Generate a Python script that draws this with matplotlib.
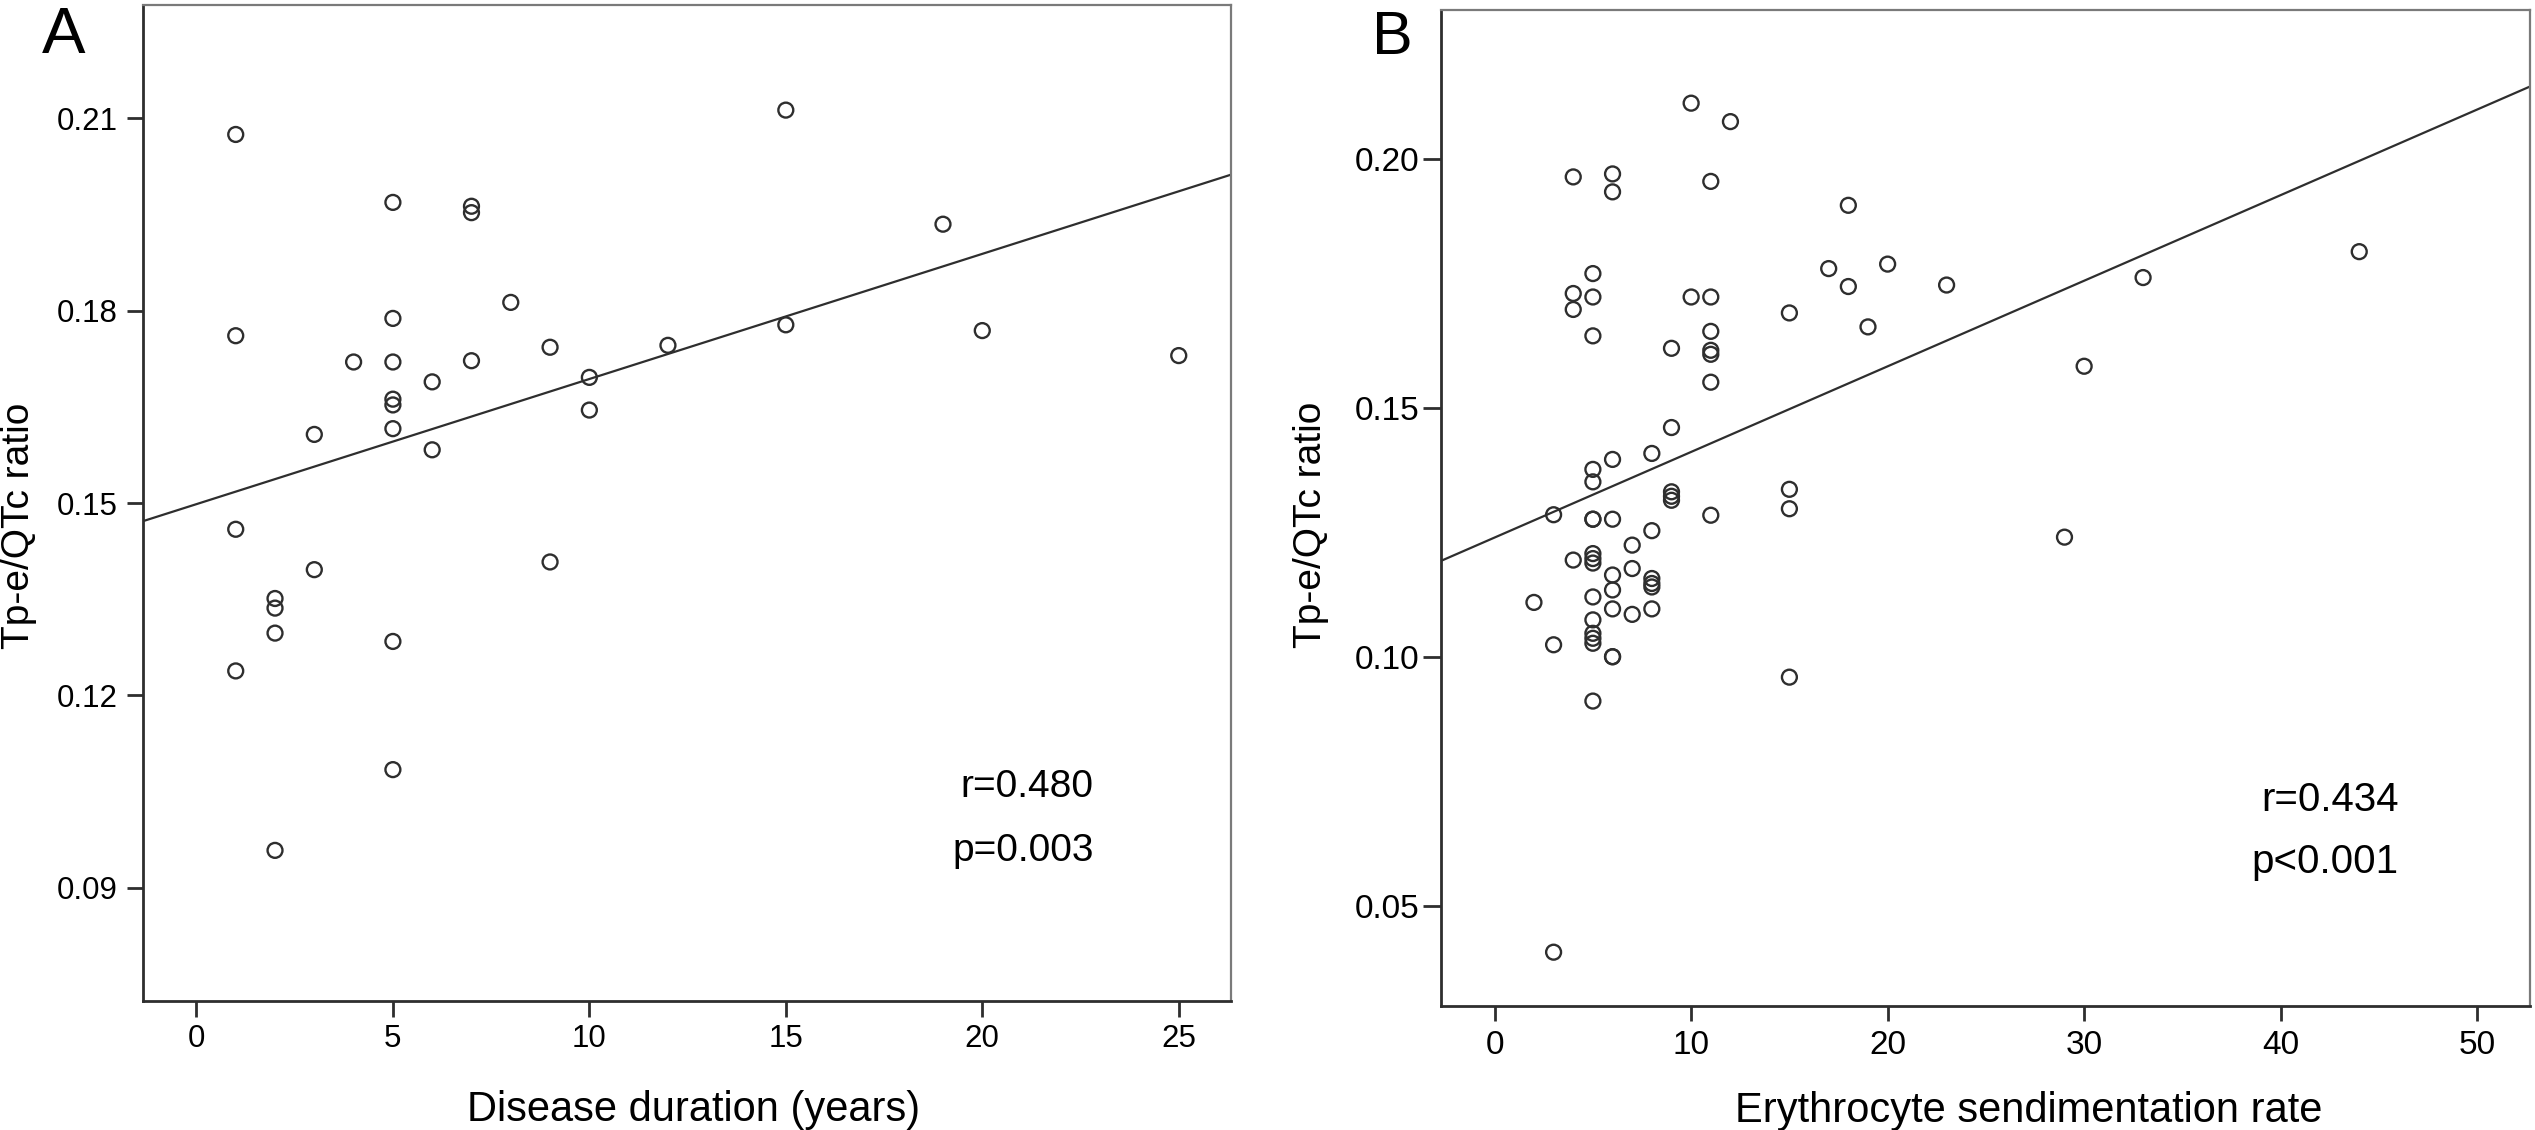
import numpy as np
import matplotlib
matplotlib.use("Agg")
import matplotlib.pyplot as plt

plt.rcParams['font.family'] = ['Liberation Sans', 'DejaVu Sans']

# ---------------- Panel A data ----------------
duration_years = [1, 1, 1, 1,
                  2, 2, 2, 2,
                  3, 3,
                  4,
                  5, 5, 5, 5, 5, 5, 5, 5,
                  6, 6,
                  7, 7, 7,
                  8,
                  9, 9,
                  10, 10,
                  12,
                  15, 15,
                  19, 20, 25]
tpe_qtc_a = [0.2075, 0.1761, 0.1459, 0.1238,
             0.1351, 0.1336, 0.1297, 0.0958,
             0.1607, 0.1396,
             0.1720,
             0.1969, 0.1788, 0.1720, 0.1662, 0.1653, 0.1616, 0.1284, 0.1084,
             0.1689, 0.1583,
             0.1963, 0.1953, 0.1722,
             0.1813,
             0.1743, 0.1408,
             0.1696, 0.1645,
             0.1746,
             0.2113, 0.1778,
             0.1935, 0.1769, 0.1730]
xticks_a = [0, 5, 10, 15, 20, 25]
xticklabels_a = ['0', '5', '10', '15', '20', '25']
yticks_a = [0.09, 0.12, 0.15, 0.18, 0.21]
yticklabels_a = ['0.09', '0.12', '0.15', '0.18', '0.21']
stats_a = ['r=0.480', 'p=0.003']

# ---------------- Panel B data ----------------
esr = [10, 12, 4, 6, 6, 11, 18, 17, 20, 18, 23, 19, 15,
       5, 4, 5, 4, 5, 10, 11, 11, 9, 11, 11, 11,
       9, 8, 6, 5, 5, 9, 9, 9, 15, 15, 3, 11, 5, 5, 6,
       8, 7, 4, 5, 5, 5, 7, 6, 6, 8, 8, 8,
       2, 5, 6, 7, 8, 5, 5, 5, 5, 3, 6, 6, 15, 5, 3,
       30, 33, 44, 29]
tpe_qtc_b = [0.2112, 0.2075, 0.1964, 0.1970, 0.1934, 0.1955, 0.1907, 0.1780, 0.1789, 0.1744, 0.1747, 0.1663, 0.1691,
             0.1770, 0.1730, 0.1723, 0.1698, 0.1645, 0.1723, 0.1723, 0.1654, 0.1620, 0.1616, 0.1608, 0.1552,
             0.1461, 0.1409, 0.1397, 0.1377, 0.1352, 0.1332, 0.1323, 0.1315, 0.1337, 0.1298, 0.1286, 0.1285, 0.1277, 0.1277, 0.1277,
             0.1254, 0.1225, 0.1195, 0.1208, 0.1198, 0.1189, 0.1178, 0.1165, 0.1135, 0.1158, 0.1148, 0.1141,
             0.1110, 0.1121, 0.1097, 0.1086, 0.1097, 0.1075, 0.1048, 0.1038, 0.1028, 0.1025, 0.1001, 0.1001, 0.0960, 0.0912, 0.0408,
             0.1584, 0.1762, 0.1814, 0.1241]
xticks_b = [0, 10, 20, 30, 40, 50]
xticklabels_b = ['0', '10', '20', '30', '40', '50']
yticks_b = [0.05, 0.10, 0.15, 0.20]
yticklabels_b = ['0.05', '0.10', '0.15', '0.20']
stats_b = ['r=0.434', 'p<0.001']

W, H = 2535, 1130
fig = plt.figure(figsize=(W / 100, H / 100), dpi=100)
fig.patch.set_facecolor('white')

dark = '#2e2e2e'
light = '#7a7a7a'


def style_axes(ax, ticklen, tsize, pad_y, pad_x):
    for side in ('left', 'bottom'):
        ax.spines[side].set_color(dark)
        ax.spines[side].set_linewidth(2.0)
    for side in ('top', 'right'):
        ax.spines[side].set_color(light)
        ax.spines[side].set_linewidth(1.6)
    ax.tick_params(axis='both', direction='out', length=ticklen, width=2.0,
                   color=dark, labelsize=tsize, labelcolor='black')
    ax.tick_params(axis='y', pad=pad_y)
    ax.tick_params(axis='x', pad=pad_x)


def draw_panel(ax, x, y, xlim, ylim):
    ax.set_xlim(*xlim)
    ax.set_ylim(*ylim)
    ax.scatter(x, y, s=115, facecolors='none', edgecolors=dark,
               linewidths=1.7, zorder=3)
    fit = np.polyfit(np.asarray(x, float), np.asarray(y, float), 1)
    xs = np.array(xlim)
    ax.plot(xs, np.polyval(fit, xs), color=dark, lw=1.6, zorder=2)


# ---------------- Panel A ----------------
axA = fig.add_axes([143 / W, 1 - 1001 / H, 1088 / W, 996 / H])
draw_panel(axA, duration_years, tpe_qtc_a, (-1.36, 26.33), (0.0723, 0.2277))
axA.set_xticks(xticks_a)
axA.set_xticklabels(xticklabels_a)
axA.set_yticks(yticks_a)
axA.set_yticklabels(yticklabels_a)
style_axes(axA, 11.5, 22.5, 6.5, 5)
axA.set_xlabel('Disease duration (years)', fontsize=30)
axA.xaxis.set_label_coords(0.506, -0.089)
axA.set_ylabel('Tp-e/QTc ratio', fontsize=28)
axA.yaxis.set_label_coords(-0.097, 0.477)
axA.text(22.84, 0.1041, stats_a[0], fontsize=28, ha='right', va='baseline')
axA.text(22.84, 0.0941, stats_a[1], fontsize=28, ha='right', va='baseline')

# ---------------- Panel B ----------------
axB = fig.add_axes([1441 / W, 1 - 1006 / H, 1089 / W, 996 / H])
draw_panel(axB, esr, tpe_qtc_b, (-2.73, 52.69), (0.030, 0.2299))
axB.set_xticks(xticks_b)
axB.set_xticklabels(xticklabels_b)
axB.set_yticks(yticks_b)
axB.set_yticklabels(yticklabels_b)
style_axes(axB, 13, 24, 2.5, 6)
axB.tick_params(axis='x', length=11)
axB.set_xlabel('Erythrocyte sendimentation rate', fontsize=30)
axB.xaxis.set_label_coords(0.54, -0.085)
axB.set_ylabel('Tp-e/QTc ratio', fontsize=28)
axB.yaxis.set_label_coords(-0.1030, 0.4834)
axB.text(46.0, 0.0692, stats_b[0], fontsize=29, ha='right', va='baseline')
axB.text(46.0, 0.0566, stats_b[1], fontsize=29, ha='right', va='baseline')

# panel letters
fig.text(64 / W, 1 - 53 / H, 'A', fontsize=47, ha='center', va='baseline')
fig.text(1392 / W, 1 - 54 / H, 'B', fontsize=44, ha='center', va='baseline')

fig.savefig('out.png', dpi=100, facecolor='white')
